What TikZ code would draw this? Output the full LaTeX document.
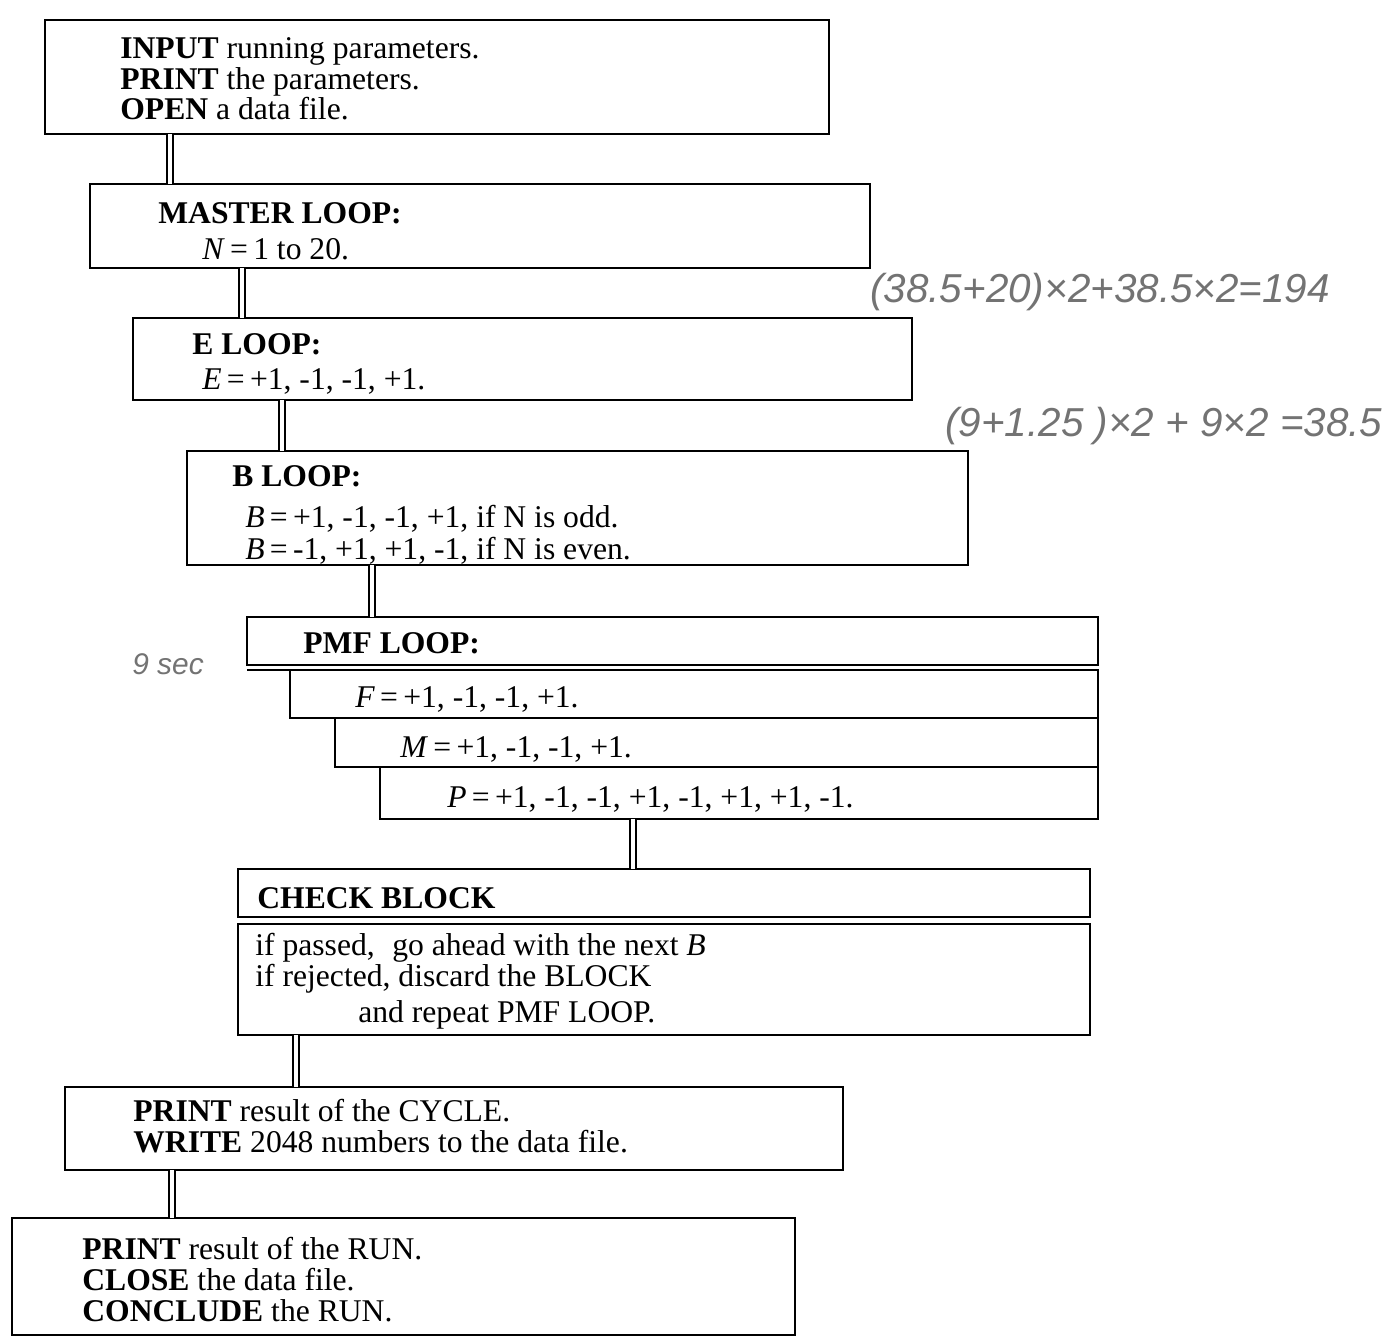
\documentclass[tikz,border=0pt]{standalone}
\usepackage{fontspec}
\setmainfont{Liberation Serif}
\newfontfamily\notefont{Liberation Sans}

\begin{document}
\begin{tikzpicture}[x=0.02cm, y=-0.02cm,
    caixa/.style={draw, line width=1.6pt, anchor=north west, inner sep=0pt, outer sep=0pt},
    texto/.style={anchor=north west, align=left, inner sep=0pt, font=\fontsize{18}{17.5}\selectfont},
    ligacao/.style={double, line width=1.1pt, double distance=2pt},
    nota/.style={anchor=base west, inner sep=0pt, text=black!55, font=\notefont\itshape\fontsize{23}{23}\selectfont}]
        % Unidade base (1 pixel da figura)
        \def\px{0.02cm}
        \useasboundingbox (0,0) rectangle (1396,1342);

        % Caixas principais
        \node[caixa, minimum width=784*\px, minimum height=114*\px] (entrada) at (45,20) {};
        \node[caixa, minimum width=780*\px, minimum height=84*\px] (mestre) at (90,184) {};
        \node[caixa, minimum width=779*\px, minimum height=82*\px] (lacoE) at (133,318) {};
        \node[caixa, minimum width=781*\px, minimum height=114*\px] (lacoB) at (187,451) {};

        % Bloco PMF (cabecalho e linhas em escada)
        \node[caixa, minimum width=851*\px, minimum height=48*\px] (pmf) at (247,617) {};
        \node[caixa, minimum width=808*\px, minimum height=48*\px] (linhaF) at (290,670) {};
        \node[caixa, minimum width=763*\px, minimum height=49*\px] (linhaM) at (335,718) {};
        \node[caixa, minimum width=718*\px, minimum height=52*\px] (linhaP) at (380,767) {};
        \draw[line width=1.6pt] ([shift={(0,5)}]pmf.south west) -- (linhaF.north west);

        % Bloco de verificacao
        \node[caixa, minimum width=852*\px, minimum height=48*\px] (verif) at (238,869) {};
        \node[caixa, minimum width=852*\px, minimum height=111*\px] (verifcorpo) at (238,924) {};

        % Caixas finais
        \node[caixa, minimum width=778*\px, minimum height=83*\px] (ciclo) at (65,1087) {};
        \node[caixa, minimum width=783*\px, minimum height=117*\px] (fim) at (12,1218) {};

        % Textos das caixas
        \node[texto] (tentrada) at (120,37) {\textbf{INPUT} running parameters.\\\textbf{PRINT} the parameters.\\\textbf{OPEN} a data file.};
        \node[texto] (tmestre) at (158,202) {\textbf{MASTER LOOP:}\\[3pt]\hspace*{0.88cm}\textit{N}\,=\,1 to 20.};
        \node[texto] (tlacoE) at (192,333) {\textbf{E LOOP:}\\[2.5pt]\hspace*{0.2cm}\textit{E}\,=\,+1, -1, -1, +1.};
        \node[texto] (tlacoB) at (232,465) {\textbf{B LOOP:}\\[5.8pt]\hspace*{0.26cm}\textit{B}\,=\,+1, -1, -1, +1, if N is odd.\\[0.7pt]\hspace*{0.26cm}\textit{B}\,=\,-1, +1, +1, -1, if N is even.};
        \node[texto] (tpmf) at (303,632) {\textbf{PMF LOOP:}};
        \node[texto] (tlinhaF) at (355,686) {\textit{F}\,=\,+1, -1, -1, +1.};
        \node[texto] (tlinhaM) at (400,736) {\textit{M}\,=\,+1, -1, -1, +1.};
        \node[texto] (tlinhaP) at (447,786) {\textit{P}\,=\,+1, -1, -1, +1, -1, +1, +1, -1.};
        \node[texto] (tverif) at (257,887) {\textbf{CHECK BLOCK}};
        \node[texto, font=\fontsize{18}{16.5}\selectfont] (tverifcorpo) at (255,933) {if passed,\hspace{0.35cm}go ahead with the next \textit{B}\\if rejected, discard the BLOCK\\[4pt]\hspace*{2.06cm}and repeat PMF LOOP.};
        \node[texto] (tciclo) at (133,1099) {\textbf{PRINT} result of the CYCLE.\\\textbf{WRITE} 2048 numbers to the data file.};
        \node[texto] (tfim) at (82,1237) {\textbf{PRINT} result of the RUN.\\\textbf{CLOSE} the data file.\\\textbf{CONCLUDE} the RUN.};

        % Ligacoes duplas entre as caixas
        \draw[ligacao] ([shift={(125,0)}]entrada.south west) coordinate (l1) -- (l1 |- mestre.north);
        \draw[ligacao] ([shift={(152,0)}]mestre.south west) coordinate (l2) -- (l2 |- lacoE.north);
        \draw[ligacao] ([shift={(149,0)}]lacoE.south west) coordinate (l3) -- (l3 |- lacoB.north);
        \draw[ligacao] ([shift={(185,0)}]lacoB.south west) coordinate (l4) -- (l4 |- pmf.north);
        \draw[ligacao] ([shift={(253,0)}]linhaP.south west) coordinate (l5) -- (l5 |- verif.north);
        \draw[ligacao] ([shift={(58,0)}]verifcorpo.south west) coordinate (l6) -- (l6 |- ciclo.north);
        \draw[ligacao] ([shift={(107,0)}]ciclo.south west) coordinate (l7) -- (l7 |- fim.north);

        % Anotacoes a lapis
        \node[nota] (nota1) at (870,302) {(38.5+20)×2+38.5×2=194};
        \node[nota] (nota2) at (945,436) {(9+1.25 )×2 + 9×2 =38.5};
        \node[nota, font=\notefont\itshape\fontsize{17}{17}\selectfont] (nota3) at (132,674) {9 sec};
\end{tikzpicture}
\end{document}
